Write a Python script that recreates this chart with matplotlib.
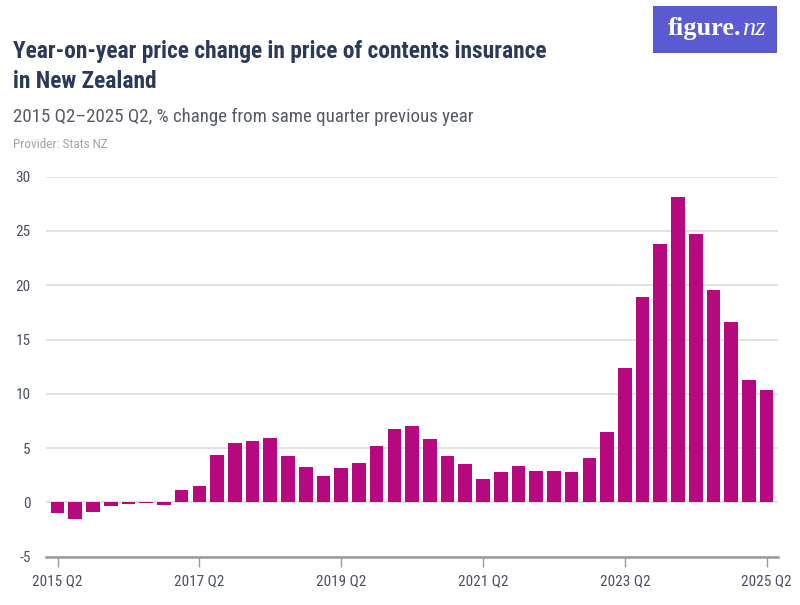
import matplotlib
matplotlib.use("Agg")
import matplotlib.pyplot as plt
from matplotlib import font_manager
from matplotlib.patches import Rectangle

# ---- data ----
quarters = [f"{y} Q{q}" for y in range(2015, 2026) for q in range(1, 5)]
quarters = quarters[1:quarters.index("2025 Q2") + 1]
values = [-1.0, -1.5, -0.9, -0.3, -0.1, -0.05, -0.2, 1.1, 1.5, 4.4,
          5.5, 5.7, 5.9, 4.3, 3.3, 2.4, 3.2, 3.6, 5.2, 6.8,
          7.0, 5.8, 4.3, 3.5, 2.2, 2.8, 3.4, 2.9, 2.9, 2.8,
          4.1, 6.5, 12.4, 18.9, 23.8, 28.1, 24.7, 19.6, 16.6, 11.3,
          10.4]
xtick_labels = ["2015 Q2", "2017 Q2", "2019 Q2", "2021 Q2", "2023 Q2", "2025 Q2"]
yticks = [-5, 0, 5, 10, 15, 20, 25, 30]

title_lines = ["Year-on-year price change in price of contents insurance", "in New Zealand"]
subtitle = "2015 Q2\u20132025 Q2, % change from same quarter previous year"
provider = "Provider: Stats NZ"

# ---- fonts ----
available = {f.name for f in font_manager.fontManager.ttflist}
def pick(*names):
    for n in names:
        if n in available:
            return n
    return "DejaVu Sans"
FONT = pick("Liberation Sans Narrow", "Roboto Condensed", "Open Sans Condensed", "Roboto", "Liberation Sans")
plt.rcParams["font.family"] = [FONT, "DejaVu Sans"]

W, H = 800, 605
fig = plt.figure(figsize=(W / 100, H / 100), dpi=100)
fig.patch.set_facecolor("white")

def fx(px):
    return px / W
def fy(py):
    return 1 - py / H

ax = fig.add_axes([fx(46), fy(556.7), fx(778) - fx(46), fy(176.7) - fy(556.7)])
x = list(range(len(values)))
ax.bar(x, values, width=0.77, color="#b8087f", zorder=3)

ax.set_ylim(-5, 30)
ax.set_xlim(-0.65, len(values) - 1 + 0.64)
ax.set_yticks(yticks)
ax.set_yticklabels([str(v) for v in yticks])
ax.yaxis.grid(True, color="#e2e2e4", linewidth=1.4, zorder=0)
ax.set_axisbelow(True)
for s in ["top", "right", "left"]:
    ax.spines[s].set_visible(False)
ax.spines["bottom"].set_color("#9a9a9e")
ax.spines["bottom"].set_linewidth(1.8)
ax.spines["bottom"].set_zorder(4)

tick_pos = [quarters.index(l) for l in xtick_labels]
ax.set_xticks(tick_pos)
ax.set_xticklabels(xtick_labels)
ax.tick_params(axis="x", length=7, width=1, color="#9a9a9e", pad=6,
               labelsize=11, labelcolor="#4a4f62")
ax.tick_params(axis="y", length=0, pad=11, labelsize=11, labelcolor="#4a4f62")

# ---- header ----
for i, line in enumerate(title_lines):
    fig.text(fx(13), fy(58 + 30 * i), line, fontsize=16.9, fontweight="bold",
             color="#2b3a5a", va="baseline", ha="left")
fig.text(fx(13), fy(122), subtitle, fontsize=13.6, color="#555a66",
         va="baseline", ha="left")
fig.text(fx(13), fy(148), provider, fontsize=9.5, color="#a3a3aa",
         va="baseline", ha="left")

# ---- logo ----
fig.patches.append(Rectangle((fx(653), fy(53)), fx(777) - fx(653), fy(6) - fy(53),
                             transform=fig.transFigure, facecolor="#5a5bd2",
                             edgecolor="none"))
serif = pick("Liberation Serif", "DejaVu Serif")
t1 = fig.text(fx(668), fy(35), "figure.", fontsize=19, color="white",
              fontweight="bold", family=[serif], va="baseline", ha="left")
fig.canvas.draw()
bb = t1.get_window_extent(renderer=fig.canvas.get_renderer())
fig.text(bb.x1 / W + fx(0.5), fy(35), "nz", fontsize=19, color="white", style="italic",
         family=[serif], va="baseline", ha="left")

fig.savefig("out.png", dpi=100, facecolor="white")
